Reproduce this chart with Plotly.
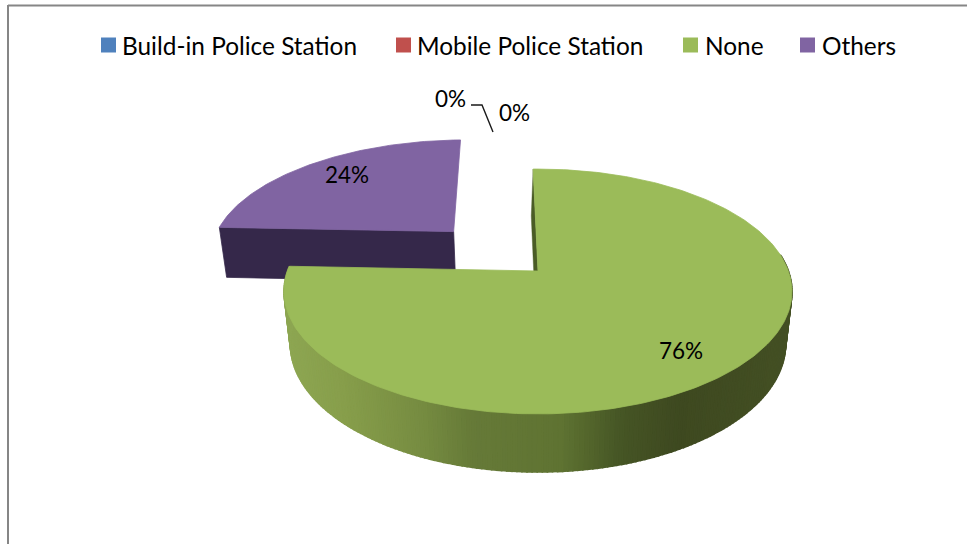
import math
import plotly.graph_objects as go

# Chart data
categories = ["Build-in Police Station", "Mobile Police Station", "None", "Others"]
shares = [0, 0, 76, 24]
colors = ["#4f81bd", "#c0504d", "#9bbb59", "#8064a2"]

# Drawing area uses pixel-like units
WIDTH, HEIGHT = 967, 544
FONT = "Lato"
LABEL_SIZE = 22.5
LEGEND_SIZE = 24.4

# Perspective model of the tilted disc
APEX_X, APEX_Y = 538.0, 271.0
SCALE_X, SCALE_Y = 250.4, 119.0
TILT = 0.1673
DEPTH_Y, DEPTH_W = 53.4, 0.025
FIRST_ANGLE = -1.3
EXPLODE = 0.50
EXPLODE_TURN = -1.0


def project(u, v, h=0.0):
    w = 1 - TILT * v + DEPTH_W * h
    return APEX_X + SCALE_X * u / w, APEX_Y + (SCALE_Y * v + DEPTH_Y * h) / w


def on_rim(deg, cu=0.0, cv=0.0, h=0.0):
    a = math.radians(deg)
    return project(cu + math.sin(a), cv - math.cos(a), h)


def polygon(points, color, name=None, edge=0.8):
    return go.Scatter(
        x=[p[0] for p in points] + [points[0][0]],
        y=[p[1] for p in points] + [points[0][1]],
        mode="lines",
        fill="toself",
        fillcolor=color,
        line=dict(color=color, width=edge),
        hoverinfo="skip" if name is None else "name",
        name=name or "",
        showlegend=False,
    )


def arc(start, stop, cu=0.0, cv=0.0, h=0.0, step=1.0):
    n = max(2, int(abs(stop - start) / step) + 1)
    return [on_rim(start + (stop - start) * i / (n - 1), cu, cv, h) for i in range(n)]


def side_shade(x):
    # Lighting along the outer wall, from lit left to shaded right
    stops = [(285, (141, 166, 82)), (340, (135, 158, 75)), (420, (118, 140, 65)),
             (470, (102, 122, 56)), (560, (95, 115, 50)), (620, (70, 86, 37)),
             (680, (62, 73, 32)), (795, (68, 80, 36))]
    for (x0, c0), (x1, c1) in zip(stops, stops[1:]):
        if x <= x1:
            t = max(0.0, (x - x0) / (x1 - x0))
            rgb = [round(a + (b - a) * t) for a, b in zip(c0, c1)]
            return "rgb({},{},{})".format(*rgb)
    return "rgb(68,80,36)"


total = sum(shares)
green_sweep = 360 * shares[2] / total
purple_sweep = 360 * shares[3] / total
green_start = FIRST_ANGLE
green_end = green_start + green_sweep
purple_start = green_end
purple_end = purple_start + purple_sweep

# The smaller slice is pulled out along its bisector
mid = math.radians((purple_start + purple_end) / 2 + EXPLODE_TURN)
cu, cv = EXPLODE * math.sin(mid), -EXPLODE * math.cos(mid)

fig = go.Figure()

# Pulled-out slice: cut face, then top
fig.add_trace(polygon(
    [project(cu, cv), on_rim(purple_start, cu, cv),
     on_rim(purple_start, cu, cv, 1), project(cu, cv, 1)],
    "#35284a",
))
fig.add_trace(polygon(
    [project(cu, cv)] + arc(purple_start, purple_end, cu, cv),
    colors[3], categories[3],
))

# Large slice: thin cut face along its first edge
apex_low = project(0, 0, 1)
rim_low = on_rim(green_start, h=1)
fig.add_trace(polygon(
    [on_rim(green_start), project(0, 0),
     (apex_low[0] - 2.0, apex_low[1]), (rim_low[0] - 2.0, rim_low[1])],
    "#4a5c26", edge=0.4,
))

# Large slice: outer wall, drawn as shaded strips
wall_from, wall_to = 82.0, green_end
strips = 190
for i in range(strips):
    a0 = wall_from + (wall_to - wall_from) * i / strips
    a1 = wall_from + (wall_to - wall_from) * (i + 1) / strips
    quad = [on_rim(a0), on_rim(a1), on_rim(a1, h=1), on_rim(a0, h=1)]
    fig.add_trace(polygon(quad, side_shade((quad[0][0] + quad[1][0]) / 2), edge=1.6))

# Large slice: top
fig.add_trace(polygon(
    [project(0, 0)] + arc(green_start, green_end),
    colors[2], categories[2],
))

# Leader line shared by the two empty slices
fig.add_trace(go.Scatter(
    x=[471, 482, 493], y=[105, 105, 132], mode="lines",
    line=dict(color="#1a1a1a", width=1.4), hoverinfo="skip", showlegend=False,
))

# Legend swatches
swatch_x = [108.5, 403.5, 690.5, 807.5]
label_x = [120, 415, 703, 820]
legend_y = 45
for name, color, x in zip(categories, colors, swatch_x):
    fig.add_trace(go.Scatter(
        x=[x], y=[legend_y], mode="markers", name=name,
        marker=dict(symbol="square", size=15, color=color, line=dict(width=0)),
        showlegend=False,
    ))

annotations = [
    dict(x=x, y=legend_y, text=name, xanchor="left", yanchor="middle",
         showarrow=False, font=dict(size=LEGEND_SIZE))
    for name, x in zip(categories, label_x)
]

# Percentage labels
label_pos = [(450, 98), (514.5, 112.5), (681, 350), (347, 174)]
annotations += [
    dict(x=x, y=y, text=f"{v}%", xanchor="center", yanchor="middle", showarrow=False)
    for v, (x, y) in zip(shares, label_pos)
]

# Outer frame: top and left edges only
frame = [
    dict(type="line", x0=8, x1=WIDTH, y0=5.5, y1=5.5, line=dict(color="#868686", width=2)),
    dict(type="line", x0=8, x1=8, y0=5, y1=HEIGHT, line=dict(color="#868686", width=2)),
]

fig.update_layout(
    width=WIDTH, height=HEIGHT,
    margin=dict(l=0, r=0, t=0, b=0),
    paper_bgcolor="white", plot_bgcolor="white",
    font=dict(family=FONT, size=LABEL_SIZE, color="#000000"),
    xaxis=dict(range=[0, WIDTH], visible=False, fixedrange=True),
    yaxis=dict(range=[HEIGHT, 0], visible=False, fixedrange=True),
    annotations=annotations,
    shapes=frame,
    showlegend=False,
)

fig.write_html("out.html", config={"displayModeBar": False})
